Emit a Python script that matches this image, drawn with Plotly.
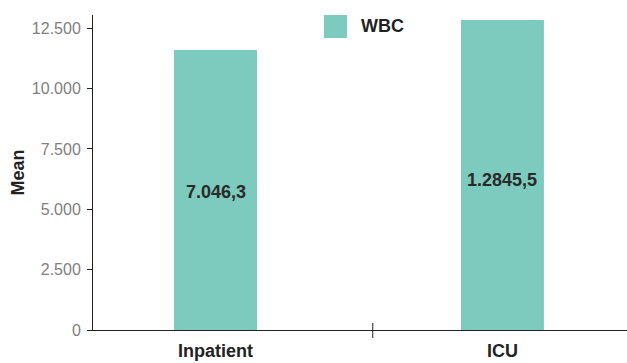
import plotly.graph_objects as go

# Mean WBC by care setting
categories = ["Inpatient", "ICU"]
wbc_mean = [11600, 12845.5]
bar_labels = ["7.046,3", "1.2845,5"]
series_name = "WBC"

y_tick_vals = [0, 2500, 5000, 7500, 10000, 12500]
y_tick_text = ["0", "2.500", "5.000", "7.500", "10.000", "12.500"]

BAR_COLOR = "#7DCBBE"
DARK = "#222222"
GREY = "#808080"
FONT = "Liberation Sans, Arial, sans-serif"

fig = go.Figure()
fig.add_trace(go.Bar(
    x=categories,
    y=wbc_mean,
    name=series_name,
    marker=dict(color=BAR_COLOR, line=dict(width=0)),
    width=0.289,
    showlegend=False,
    hoverinfo="x+y",
))

# value labels inside the bars
label_shift = [-2, -5]
for cat, val, txt, dy in zip(categories, wbc_mean, bar_labels, label_shift):
    fig.add_annotation(
        x=cat, y=val / 2, text=f"<b>{txt}</b>", showarrow=False,
        xref="x", yref="y", yshift=dy,
        font=dict(family=FONT, size=18, color="#2a2a2a"),
    )

# legend: swatch + series name
fig.add_shape(
    type="rect", xref="paper", yref="paper",
    x0=0.4326, x1=0.4757, y0=0.927, y1=1.0,
    fillcolor=BAR_COLOR, line=dict(width=0), layer="above",
)
fig.add_annotation(
    x=0.4985, y=0.9635, xref="paper", yref="paper",
    text=f"<b>{series_name}</b>", showarrow=False,
    xanchor="left", yanchor="middle",
    font=dict(family=FONT, size=18, color=DARK),
)

# divider tick between the two categories, crossing the baseline
fig.add_shape(
    type="line", xref="x", yref="paper",
    x0=0.548, x1=0.548, y0=0.0222, y1=-0.0254,
    line=dict(color=DARK, width=1),
)

fig.update_layout(
    width=627, height=363,
    margin=dict(l=93, r=0, t=15, b=33),
    paper_bgcolor="white", plot_bgcolor="white",
    font=dict(family=FONT),
    xaxis=dict(
        type="category",
        range=[-0.427, 1.434],
        tickvals=categories,
        ticktext=[f"<b>{c}</b>" for c in categories],
        showline=True, linecolor=DARK, linewidth=1,
        ticks="", showgrid=False, zeroline=False,
        tickfont=dict(family=FONT, size=18, color=DARK),
        ticklabelstandoff=4,
    ),
    yaxis=dict(
        range=[0, 13050],
        tickvals=y_tick_vals, ticktext=y_tick_text,
        showline=True, linecolor=DARK, linewidth=1,
        ticks="outside", ticklen=5, tickcolor=DARK, tickwidth=1,
        showgrid=False, zeroline=False,
        tickfont=dict(family=FONT, size=16, color=GREY),
        ticklabelstandoff=3,
        title=dict(text="<b>Mean</b>", font=dict(family=FONT, size=18, color=DARK), standoff=2),
    ),
)

fig.write_html("out.html")
